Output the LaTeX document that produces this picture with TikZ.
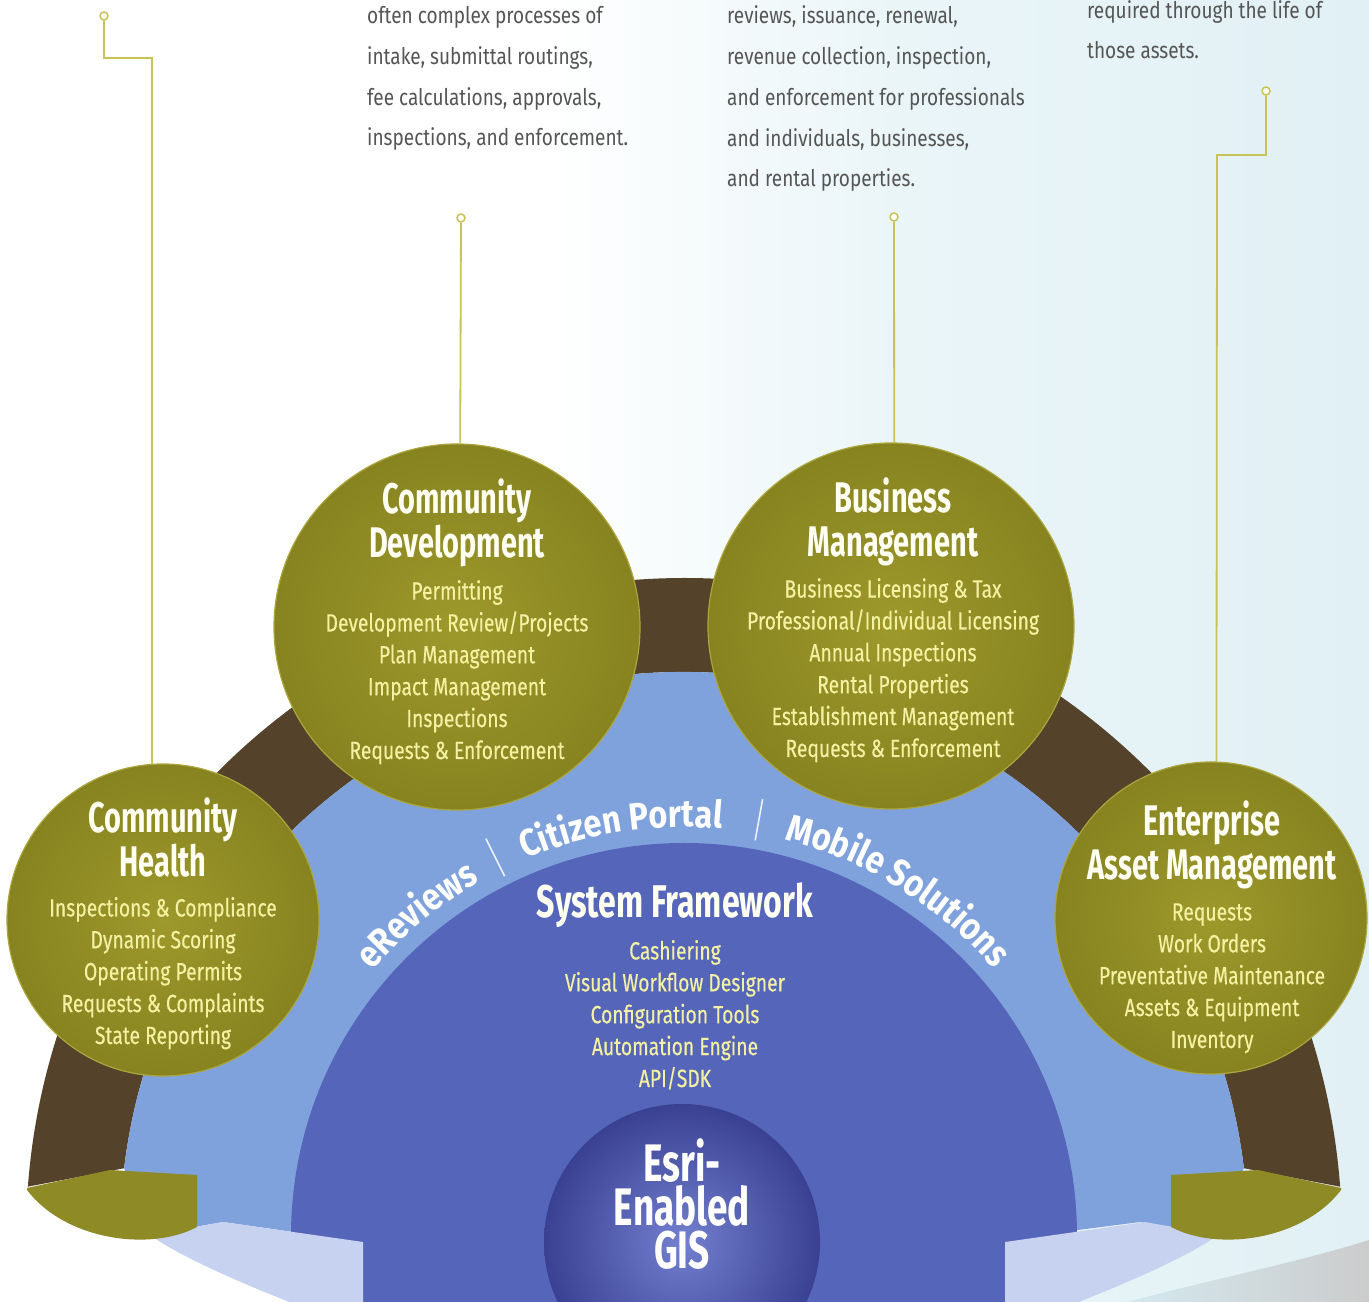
\documentclass[tikz,border=0pt]{standalone}
\usepackage{fontspec}
\setmainfont{Fira Sans}
\newfontfamily\titlefam[FakeStretch=0.675]{Fira Sans}
\newfontfamily\frametitlefam[FakeStretch=0.70]{Fira Sans}
\newfontfamily\itemfam[FakeStretch=0.775,FakeBold=0.35]{Fira Sans}
\newfontfamily\blurbfam[FakeStretch=0.83]{Fira Sans}
\newfontfamily\arcfam[FakeStretch=0.86]{Fira Sans}
\newfontfamily\esrifam[FakeStretch=0.70]{Fira Sans}
\usetikzlibrary{calc,decorations.text}

\definecolor{bgA}{HTML}{EAF5F8}
\definecolor{bgB}{HTML}{D4E9F0}
\definecolor{ringbrown}{HTML}{54432A}
\definecolor{oliveD}{HTML}{878320}
\definecolor{oliveL}{HTML}{9D992B}
\definecolor{oliverim}{HTML}{ABA63C}
\definecolor{oliveslab}{HTML}{8E8A25}
\definecolor{bandblue}{HTML}{7FA2DD}
\definecolor{coreblue}{HTML}{5566BA}
\definecolor{slab}{HTML}{C7D1F0}
\definecolor{ballin}{HTML}{7380CF}
\definecolor{ballout}{HTML}{3A4192}
\definecolor{itemyellow}{HTML}{F4F1A2}
\definecolor{titlewhite}{HTML}{FFFFF2}
\definecolor{greytext}{HTML}{555555}
\definecolor{wire}{HTML}{C9C257}

\pgfdeclarehorizontalshading{pagebg}{100bp}{color(0bp)=(white); color(45bp)=(white); color(58bp)=(bgA); color(100bp)=(bgB)}

% cut faces of the ring and band at the base (left side; mirrored for the right)
\newcommand\baseslabs{%
  \fill[slab] (150,67) -- (223,80) -- (363,60) -- (363,-4) -- (300,-4)
    .. controls (250,15) and (180,45) .. cycle;
  \fill[oliveslab] (27,114) -- (110,132) -- (197,127) -- (197,75)
    .. controls (150,50) and (65,62) .. (27,112) -- cycle;
}

\begin{document}
\begin{tikzpicture}[x=1bp,y=1bp,
  hub/.style={circle, inner sep=0pt, draw=oliverim, line width=1.2bp,
    shading=radial, inner color=oliveL, outer color=oliveD},
  bigdisc/.style={hub, minimum size=366bp},
  smalldisc/.style={hub, minimum size=312bp},
  % multi-line nodes: the base anchor sits on the last line
  titletext/.style={anchor=base, align=center, text=titlewhite,
    font={\titlefam\bfseries\fontsize{43}{45}\selectfont}},
  itemtext/.style={anchor=base, align=center, text=itemyellow,
    font={\itemfam\fontsize{25}{32}\selectfont}},
  blurb/.style={anchor=base west, align=left, text=greytext, inner xsep=0pt,
    font={\blurbfam\fontsize{23}{41}\selectfont}},
  wire/.style={draw=wire, line width=1.8bp},
  pin/.style={circle, draw=wire, line width=1.5bp, fill=white, inner sep=0pt, minimum size=8bp},
  divider/.style={draw=white!85!bandblue, line width=1.6bp},
]
\useasboundingbox (0,0) rectangle (1369,1302);
\clip (0,0) rectangle (1369,1302);
\path[shading=pagebg] (0,0) rectangle (1369,1302);

% soft shadow under the right base
\shade[left color=bgB, right color=gray!40] (1120,-2) -- (1369,-2) -- (1369,62) .. controls (1300,40) and (1200,20) .. cycle;

\coordinate (C) at (684,66);

% outer brown ring
\fill[ringbrown] ($(C)+(4.3:658)$) arc[start angle=4.3, end angle=175.7, radius=658]
  -- ($(C)+(173.1:564)$) arc[start angle=173.1, end angle=6.9, radius=564] -- cycle;

% light blue band
\fill[bandblue] ($(C)+(173.1:564)$) arc[start angle=173.1, end angle=6.9, radius=564]
  -- (1213,65) -- (1140,80) -- (1000,62) -- (363,60) -- (223,80) -- (150,67) -- cycle;

% system framework core
\fill[coreblue] (C) circle[radius=393];

% base faces
\baseslabs
\begin{scope}[xshift=1368bp, xscale=-1]
  \baseslabs
\end{scope}

% GIS ball
\node[circle, minimum size=276bp, inner sep=0pt, shading=radial, inner color=ballin, outer color=ballout] (gis) at (682,60) {};
\node[anchor=base, align=center, text=white, font={\esrifam\bfseries\fontsize{53}{44}\selectfont}] (gistext) at (682,33) {Esri-\\Enabled\\GIS};

% curved labels on the band
\path[decorate, decoration={text along path, text align=center,
  text={|\arcfam\bfseries\fontsize{38}{42}\selectfont\color{white}|eReviews}}]
  ($(C)+(146:409)$) arc[start angle=146, end angle=113.5, radius=409];
\path[decorate, decoration={text along path, text align=center,
  text={|\arcfam\bfseries\fontsize{38}{42}\selectfont\color{white}|Citizen Portal}}]
  ($(C)+(121:409)$) arc[start angle=121, end angle=76.5, radius=409];
\path[decorate, decoration={text along path, text align=center,
  text={|\arcfam\bfseries\fontsize{38}{42}\selectfont\color{white}|Mobile Solutions}}]
  ($(C)+(84:409)$) arc[start angle=84, end angle=32.6, radius=409];
\draw[divider] ($(C)+(116.5:402)$) -- ($(C)+(116.5:444)$);
\draw[divider] ($(C)+(79.8:402)$) -- ($(C)+(79.8:444)$);

% system framework text
\node[titletext, font={\frametitlefam\bfseries\fontsize{46}{48}\selectfont}] (sftitle) at (675,384) {System Framework};
\node[itemtext] (sfitems) at (675,215) {Cashiering\\Visual Workflow Designer\\Configuration Tools\\Automation Engine\\API/SDK};

% product circles
\node[bigdisc] (cd) at (457,675) {};
\node[bigdisc] (bm) at (891,676) {};
\node[smalldisc] (ch) at (163,382) {};
\node[smalldisc] (eam) at (1211,384) {};

\node[titletext] (cdtitle) at (457,744) {Community\\Development};
\node[itemtext] (cditems) at (457,543) {Permitting\\Development Review/Projects\\Plan Management\\Impact Management\\Inspections\\Requests \& Enforcement};

\node[titletext] (bmtitle) at (893,745) {Business\\Management};
\node[itemtext] (bmitems) at (893,545) {Business Licensing \& Tax\\Professional/Individual Licensing\\Annual Inspections\\Rental Properties\\Establishment Management\\Requests \& Enforcement};

\node[titletext] (chtitle) at (163,425) {Community\\Health};
\node[itemtext] (chitems) at (163,258) {Inspections \& Compliance\\Dynamic Scoring\\Operating Permits\\Requests \& Complaints\\State Reporting};

\node[titletext] (eamtitle) at (1212,422) {Enterprise\\Asset Management};
\node[itemtext] (eamitems) at (1212,254) {Requests\\Work Orders\\Preventative Maintenance\\Assets \& Equipment\\Inventory};

% descriptions at the top
\node[blurb] (cddesc) at (367,1156) {often complex processes of\\intake, submittal routings,\\fee calculations, approvals,\\inspections, and enforcement.};
\node[blurb] (bmdesc) at (727,1115) {reviews, issuance, renewal,\\revenue collection, inspection,\\and enforcement for professionals\\and individuals, businesses,\\and rental properties.};
\node[blurb] (eamdesc) at (1087,1243) {required through the life of\\those assets.};

% leader lines
\node[pin] (m1) at (104,1286) {};
\node[pin] (m2) at (461,1084) {};
\node[pin] (m3) at (894,1085) {};
\node[pin] (m4) at (1266,1211) {};
\coordinate (k1) at (152,1244);
\coordinate (k2) at (1217,1147);
\draw[wire] (m1) |- (k1) -- (ch.94);
\draw[wire] (m2) -- (cd.89);
\draw[wire] (m3) -- (bm.89);
\draw[wire] (m4) |- (k2) -- (eam.88);
\end{tikzpicture}
\end{document}
